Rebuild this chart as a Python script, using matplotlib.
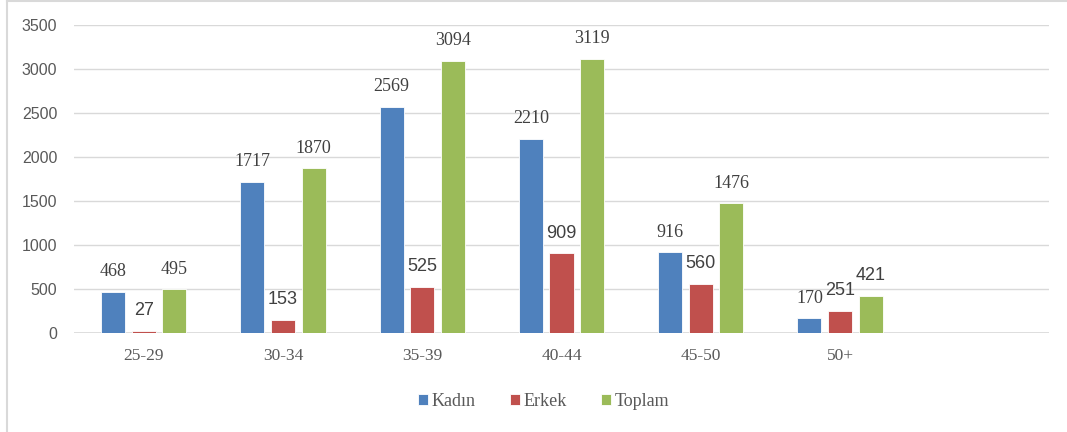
import numpy as np
import matplotlib.pyplot as plt
from matplotlib.lines import Line2D

# datos
gruplar = ["25-29", "30-34", "35-39", "40-44", "45-50", "50+"]
kadin = [468, 1717, 2569, 2210, 916, 170]
erkek = [27, 153, 525, 909, 560, 251]
toplam = [495, 1870, 3094, 3119, 1476, 421]
seri_adlari = ["Kadın", "Erkek", "Toplam"]
renkler = ["#4f81bd", "#c0504d", "#9bbb59"]

serif = ["Liberation Serif", "DejaVu Serif"]
sans = ["Liberation Sans", "DejaVu Sans"]
gri = "#595959"

fig = plt.figure(figsize=(10.67, 4.32), dpi=100)
ax = fig.add_axes([74 / 1067, 1 - 333 / 432, (1049 - 74) / 1067, (333 - 25) / 432])

x = np.arange(len(gruplar))
w = 0.173
ofs = 0.22
barlar = []
for i, (vals, c) in enumerate(zip([kadin, erkek, toplam], renkler)):
    b = ax.bar(x + (i - 1) * ofs, vals, w, color=c, edgecolor="white", linewidth=0.6, zorder=3)
    barlar.append(b)

# etiketler
for i, vals in enumerate([kadin, erkek, toplam]):
    for j, v in enumerate(vals):
        if i == 1 or (i == 2 and j == 5):
            fam, fs = sans, 13
        else:
            fam, fs = serif, 13
        ax.annotate(str(v), (x[j] + (i - 1) * ofs, v), xytext=(0, 20), textcoords="offset pixels",
                    ha="center", va="center", family=fam, fontsize=fs, color="#404040")

ax.set_xlim(-0.5, 6.5)
ax.set_ylim(0, 3500)
ax.set_yticks(np.arange(0, 3501, 500))
ax.set_xticks(x)
ax.set_xticklabels(gruplar, family=serif, fontsize=12.5, color=gri)
for t in ax.get_yticklabels():
    t.set_family(sans)
    t.set_fontsize(11.5)
    t.set_color(gri)
ax.tick_params(length=0)
ax.tick_params(axis="x", pad=11)
ax.tick_params(axis="y", pad=12)
ax.grid(axis="y", color="#d9d9d9", linewidth=1, zorder=0)
for s in ax.spines.values():
    s.set_visible(False)
ax.axhline(0, color="#d9d9d9", linewidth=1.2, zorder=2)

# lejant
fig.legend(barlar, seri_adlari, loc="center", bbox_to_anchor=(544 / 1067, 1 - 401 / 432), ncol=3,
           frameon=False, prop={"family": serif, "size": 13}, handlelength=0.55, handleheight=0.55,
           handletextpad=0.2, columnspacing=1.9, labelcolor=gri)

# dış çerçeve
fig.add_artist(Line2D([7 / 1067, 7 / 1067], [0, 1 - 1 / 432], transform=fig.transFigure, color="#d9d9d9", linewidth=1.5))
fig.add_artist(Line2D([7 / 1067, 1], [1 - 1 / 432, 1 - 1 / 432], transform=fig.transFigure, color="#d9d9d9", linewidth=1.5))

fig.savefig("out.png", dpi=100)
